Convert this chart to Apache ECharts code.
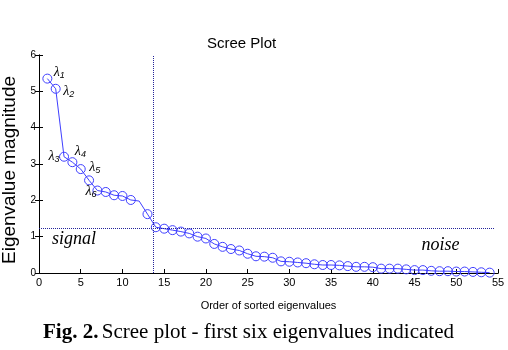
<!DOCTYPE html>
<html>
<head>
<meta charset="utf-8">
<script src="https://cdn.jsdelivr.net/npm/echarts@6/dist/echarts.min.js"></script>
<style>
    html, body { margin: 0; padding: 0; background: #fff; }
    #main { width: 508px; height: 350px; }
</style>
</head>
<body>
<div id="main"></div>
<script>
// eigenvalues, in sorted order
var orders = [];
for (var i = 1; i <= 54; i++) orders.push(i);
var eigenvalues = [5.35, 5.07, 3.2, 3.05, 2.86, 2.55, 2.27, 2.23, 2.14, 2.12,
    2.01, 1.98, 1.62, 1.26, 1.22, 1.18, 1.14, 1.09, 1.0, 0.95,
    0.8, 0.72, 0.66, 0.62, 0.53, 0.46, 0.45, 0.42, 0.32, 0.31,
    0.29, 0.27, 0.24, 0.22, 0.22, 0.21, 0.19, 0.17, 0.17, 0.16,
    0.12, 0.12, 0.12, 0.1, 0.08, 0.08, 0.06, 0.05, 0.05, 0.04,
    0.04, 0.03, 0.02, 0.01];
var hiddenMarker = [12];       // no circle drawn at this point
var xTicks = [0, 5, 10, 15, 20, 25, 30, 35, 40, 45, 50, 55];
var yTicks = [0, 1, 2, 3, 4, 5, 6];
var cutX = 13.7;               // vertical dotted line
var cutY = 1.24;               // horizontal dotted line
var lambdaIdx = [1, 2, 3, 4, 5, 6];
// label placement per lambda (offset in px)
var lambdaOffset = [[12, -6], [13, 3], [-10, 0], [8, -11], [14, -2], [2, 11]];

var blue = '#3f3fff';
var navy = '#23239a';

var seriesData = [];
orders.forEach(function(o, i) {
    var item = {value: [o, eigenvalues[i]]};
    if (hiddenMarker.indexOf(o) >= 0) {
        item.symbol = 'none';
    }
    var k = lambdaIdx.indexOf(o);
    if (k >= 0) {
        item.label = {
            show: true,
            position: 'inside',
            offset: lambdaOffset[k],
            formatter: '{l|λ}{s|' + o + '}',
            rich: {
                l: {fontFamily: 'Liberation Serif', fontStyle: 'italic', fontSize: 14, color: '#000'},
                s: {fontFamily: 'Liberation Sans', fontStyle: 'italic', fontSize: 9, color: '#000', verticalAlign: 'bottom', padding: [6, 0, 0, 0]}
            }
        };
    }
    seriesData.push(item);
});

var chart = echarts.init(document.getElementById('main'));

var option = {
    animation: false,
    title: {
        text: 'Scree Plot',
        left: 202,
        top: 31,
        textStyle: {fontFamily: 'Liberation Sans', fontSize: 15, fontWeight: 'normal', color: '#000'}
    },
    grid: {left: 39, right: 10, top: 55, bottom: 77, outerBoundsMode: 'none', containLabel: false},
    xAxis: [{
        type: 'value',
        min: 0, max: 55, interval: 5,
        name: 'Order of sorted eigenvalues',
        nameLocation: 'middle',
        nameGap: 27,
        nameTextStyle: {fontFamily: 'Liberation Sans', fontSize: 11, color: '#000'},
        axisLine: {lineStyle: {color: '#000', width: 1}},
        axisTick: {inside: true, length: 4, lineStyle: {color: '#000'}},
        axisLabel: {
            fontFamily: 'Liberation Sans', fontSize: 11, color: '#000', margin: 4,
            formatter: function(v) { return xTicks.indexOf(v) >= 0 ? v : ''; }
        },
        splitLine: {show: false}
    }, {
        type: 'value', position: 'top',
        min: 0, max: 55, interval: 5,
        axisLine: {show: true, lineStyle: {color: '#000'}},
        axisTick: {show: false},
        axisLabel: {show: false},
        splitLine: {show: false}
    }],
    yAxis: [{
        type: 'value',
        min: 0, max: 6, interval: 1,
        name: 'Eigenvalue magnitude',
        nameLocation: 'middle',
        nameGap: 15,
        nameTextStyle: {fontFamily: 'Liberation Sans', fontSize: 19, color: '#000', padding: [0, 12, 0, 0]},
        axisLine: {show: true, lineStyle: {color: '#000'}},
        axisTick: {show: true, inside: true, length: 4, lineStyle: {color: '#000'}},
        axisLabel: {
            fontFamily: 'Liberation Sans', fontSize: 10, color: '#000', margin: 3,
            formatter: function(v) { return yTicks.indexOf(v) >= 0 ? v : ''; }
        },
        splitLine: {show: false}
    }, {
        type: 'value', position: 'right',
        min: 0, max: 6, interval: 1,
        axisLine: {show: true, lineStyle: {color: '#000'}},
        axisTick: {show: true, inside: true, length: 4, lineStyle: {color: '#000'}},
        axisLabel: {show: false},
        splitLine: {show: false}
    }],
    series: [{
        type: 'line',
        data: seriesData,
        symbol: 'circle',
        symbolSize: 9,
        showAllSymbol: true,
        lineStyle: {color: blue, width: 1},
        itemStyle: {color: 'rgba(255,255,255,0)', borderColor: blue, borderWidth: 1},
        markLine: {
            silent: true,
            symbol: 'none',
            label: {show: false},
            lineStyle: {color: navy, type: [1, 1], width: 1},
            data: [
                [{coord: [cutX, 0]}, {coord: [cutX, 6]}],
                [{coord: [0, cutY]}, {coord: [54.6, cutY]}]
            ]
        },
        markPoint: {
            silent: true,
            symbol: 'circle',
            symbolSize: 0,
            label: {
                show: true,
                fontFamily: 'Liberation Serif', fontStyle: 'italic', fontSize: 18, color: '#000'
            },
            data: [
                {coord: [4.2, 0.92], value: 'signal', label: {formatter: 'signal'}},
                {coord: [48.1, 0.75], value: 'noise', label: {formatter: 'noise'}}
            ]
        }
    }],
    graphic: [{
        type: 'text',
        left: 43,
        top: 322,
        style: {
            rich: {
                b: {fontFamily: 'Liberation Serif', fontWeight: 'bold', fontSize: 21, fill: '#000'},
                n: {fontFamily: 'Liberation Serif', fontSize: 21, fill: '#000'}
            },
            text: '{b|Fig. 2.} {n|Scree plot - first six eigenvalues indicated}'
        }
    }]
};

chart.setOption(option);
</script>
</body>
</html>
